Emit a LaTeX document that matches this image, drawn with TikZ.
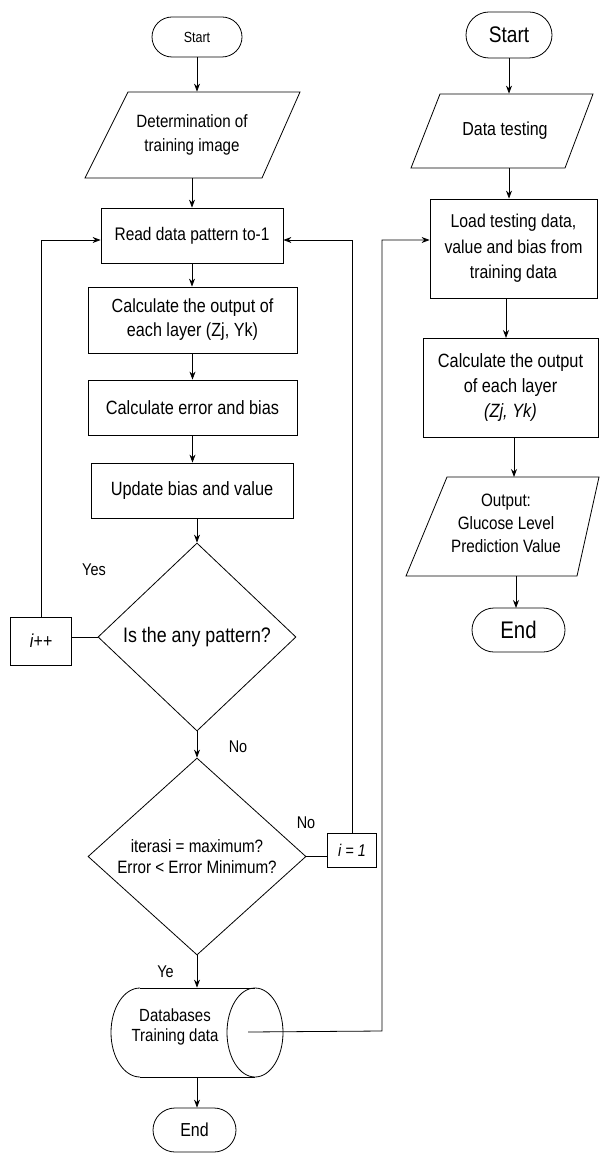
\documentclass[tikz,border=0pt]{standalone}
\usepackage{fontspec}
\setmainfont{Liberation Sans}[FakeStretch=0.85]
\usetikzlibrary{shapes.geometric,shapes.misc,arrows.meta}
\newcommand\fsz[2]{\fontsize{#1}{#2}\selectfont}
\begin{document}
\begin{tikzpicture}[x=1pt,y=-1pt,line width=0.8pt,
  box/.style={draw, rectangle, inner sep=0pt, align=center, font=\fsz{18.2}{24}},
  term/.style={draw, rounded rectangle, inner sep=0pt, align=center},
  dec/.style={draw, diamond, aspect=1, inner sep=0pt, align=center},
  hold/.style={inner sep=0pt, align=center},
  txt/.style={inner sep=0pt, align=center, font=\fsz{18.2}{24}},
  lbl/.style={inner sep=0pt, font=\fsz{17}{20}},
  arr/.style={-{Stealth[length=8pt,width=6pt]}}]
\useasboundingbox (0,0) rectangle (600,1155);

% ---------- left column ----------
\node[term, minimum width=90pt, minimum height=40pt, font=\fsz{14.7}{18}] (s1) at (197,37) {Start};
\draw (128,92) -- (300,92) -- (262,178) -- (85,178) -- cycle;
\node[hold, minimum width=177pt, minimum height=86pt, font=\fsz{17.8}{24}] (p1) at (192,135) {Determination of\\training image};
\node[box, minimum width=182pt, minimum height=55pt] (r1) at (192,235.5) {Read data pattern to-1};
\node[box, minimum width=209pt, minimum height=66pt, font=\fsz{19}{24}] (r2) at (192.5,320) {Calculate the output of\\each layer (Zj, Yk)};
\node[box, minimum width=209pt, minimum height=55pt, font=\fsz{19.2}{24}] (r3) at (192.5,407.5) {Calculate error and bias};
\node[box, minimum width=202pt, minimum height=55pt, font=\fsz{19.2}{24}] (r4) at (192,490.5) {Update bias and value};
\node[dec, minimum width=198pt, minimum height=188pt, font=\fsz{21}{24}] (d1) at (197,637) {Is the any pattern?};
\node[box, minimum width=61pt, minimum height=48pt, font=\fsz{18.8}{22}\itshape] (ipp) at (41,641) {i++};
\node[dec, minimum width=218pt, minimum height=197pt, font=\fsz{17.9}{21}] (d2) at (197,856.5) {iterasi = maximum?\\Error < Error Minimum?};
\node[box, minimum width=49pt, minimum height=34pt, font=\fsz{17}{20}\itshape] (i1) at (352,850) {i = 1};

% cylinder
\draw (140,988) -- (255,988);
\draw (140,1077) -- (255,1077);
\draw (140,988) arc[start angle=90, end angle=270, x radius=29pt, y radius=44.5pt];
\draw (255,1032.5) ellipse [x radius=28pt, y radius=44.5pt];
\node[hold, minimum width=172pt, minimum height=89pt] (db) at (197,1032.5) {};
\node[txt, font=\fsz{17.6}{20}] (dbt) at (175,1027) {Databases\\Training data};
\coordinate (dbc) at (248,1032);
\coordinate (jr) at (382,1031);

\node[term, minimum width=83pt, minimum height=44pt, font=\fsz{18.8}{22}] (e1) at (194.5,1130) {End};

% labels
\node[lbl] (lyes) at (94,570) {Yes};
\node[lbl] (lno1) at (238,747) {No};
\node[lbl] (lno2) at (306,823) {No};
\node[lbl] (lye) at (165.5,972) {Ye};

% ---------- right column ----------
\node[term, minimum width=86pt, minimum height=46pt, font=\fsz{22.5}{26}] (s2) at (509,35) {Start};
\draw (440,94) -- (593,94) -- (565,168) -- (411,168) -- cycle;
\node[hold, minimum width=154pt, minimum height=74pt, font=\fsz{18.8}{24}] (p2) at (505,131) {Data testing};
\node[box, minimum width=167pt, minimum height=99pt, font=\fsz{18.6}{25.5}] (load) at (513.5,248.5) {Load testing data,\\value and bias from\\training data};
\node[box, minimum width=175pt, minimum height=99pt, font=\fsz{19.2}{25}] (calc) at (510.5,387.5) {Calculate the output\\of each layer\\\textit{(Zj, Yk)}};
\draw (447,477) -- (599,477) -- (577,576) -- (406,576) -- cycle;
\node[hold, minimum width=171pt, minimum height=99pt, font=\fsz{17.9}{23}] (p3) at (506,523) {Output:\\Glucose Level\\Prediction Value};
\node[term, minimum width=93pt, minimum height=44pt, font=\fsz{24}{26}] (e2) at (518.5,630) {End};

% ---------- connectors left ----------
\draw[arr] (s1.south) -- (s1.south |- p1.north);
\draw[arr] (p1.south) -- (p1.south |- r1.north);
\draw[arr] (r1.south) -- (r1.south |- r2.north);
\draw[arr] (r2.south) -- (r2.south |- r3.north);
\draw[arr] (r3.south) -- (r3.south |- r4.north);
\draw[arr] (d1.north |- r4.south) -- (d1.north);
\draw[arr] (d1.south) -- (d2.north);
\draw (d1.west) -- (d1.west -| ipp.east);
\draw[arr] (ipp.north) |- ([yshift=-4.5pt]r1.west);
\draw (d2.east) -- (d2.east -| i1.west);
\draw[arr] (i1.north) |- ([yshift=-4.5pt]r1.east);
\draw[arr] (d2.south) -- (d2.south |- db.north);
\draw[arr] (db.south) -- (db.south |- e1.north);
\draw[arr] (dbc) -- (jr) |- ([yshift=8.5pt]load.west);

% ---------- connectors right ----------
\draw[arr] (s2.south) -- (s2.south |- p2.north);
\draw[arr] (s2.south |- p2.south) -- (s2.south |- load.north);
\draw[arr] (506,298) -- (506,338);
\draw[arr] (514,437) -- (514,477);
\draw[arr] (516,576) -- (516,608);
\end{tikzpicture}
\end{document}
